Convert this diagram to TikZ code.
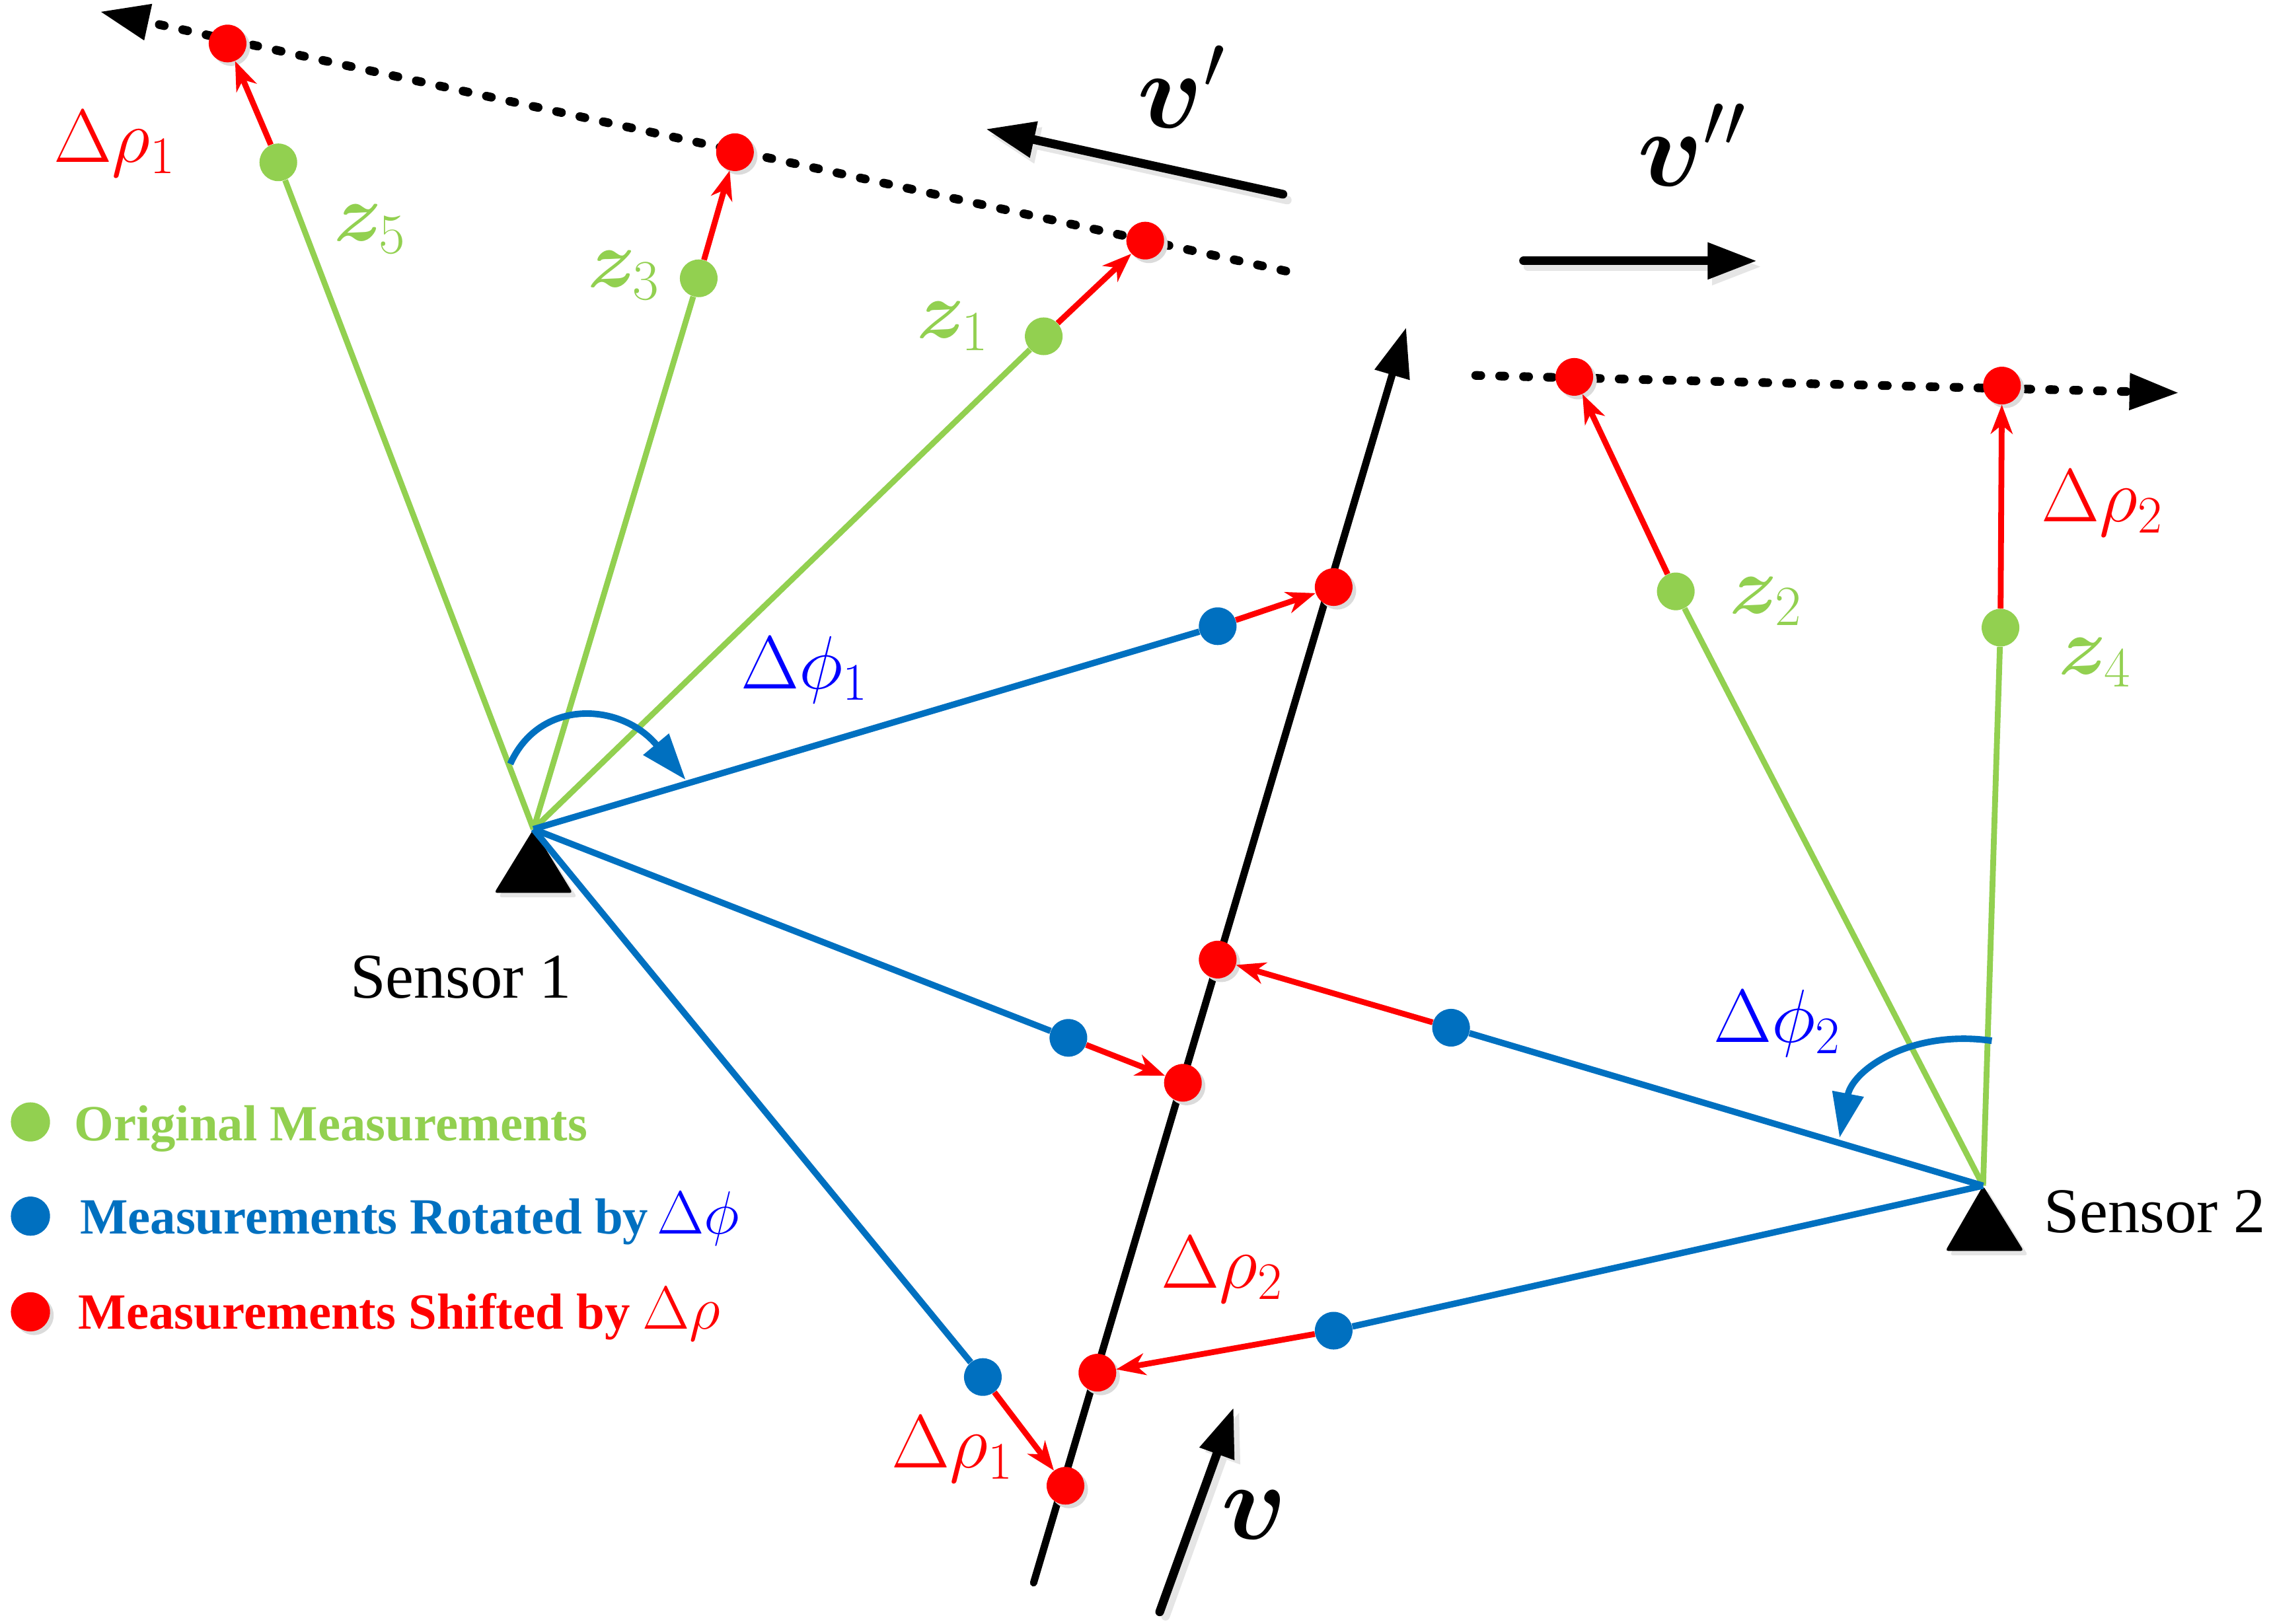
\RequirePackage{fix-cm}
\documentclass[tikz,border=0pt]{standalone}
\usepackage{amsmath}
\usepackage{bm}
\usepackage{fontspec}
\newfontfamily\timesf{Liberation Serif}
\usetikzlibrary{arrows.meta,shadows}
\definecolor{mgreen}{RGB}{146,208,80}
\definecolor{mblue}{RGB}{0,112,192}
\definecolor{mred}{RGB}{255,0,0}
\definecolor{pblue}{RGB}{0,0,255}
\pgfdeclarelayer{bg}
\pgfsetlayers{bg,main}
\begin{document}
\begin{tikzpicture}[x=1pt,y=-1pt,
  dot/.style={circle,minimum size=26pt,inner sep=0pt,draw=none},
  gdot/.style={dot,fill=mgreen},
  bdot/.style={dot,fill=mblue},
  rdot/.style={dot,fill=mred,drop shadow={shadow xshift=2.5pt,shadow yshift=-2.5pt,fill=black!14,opacity=1}},
  gline/.style={mgreen,line width=4pt},
  bline/.style={mblue,line width=4.4pt},
  rarrow/.style={mred,line width=4pt,-{Stealth[length=20pt,width=15pt,inset=6pt]}},
  bigtip/.style={-{Triangle[length=34pt,width=24pt]}},
  dotline/.style={line width=6pt,line cap=round,dash pattern=on 3.5pt off 13pt},
  vline/.style={line width=6pt,line cap=round,bigtip},
  mlab/.style={inner sep=0pt,font=\fontsize{52}{52}\selectfont},
  zlab/.style={inner sep=0pt,text=mgreen,font=\fontsize{56}{56}\selectfont},
  vlab/.style={inner sep=0pt,font=\fontsize{75}{75}\selectfont},
  slab/.style={inner sep=0pt,font=\timesf\fontsize{44}{44}\selectfont},
  leg/.style={inner sep=0pt,anchor=base west,font=\timesf\bfseries\fontsize{35}{35}\selectfont}
]
\useasboundingbox (0,0) rectangle (1568,1120);

% sensors
\coordinate (S1) at (368,572);
\coordinate (S2) at (1368,818);
\fill[black!10,rounded corners=2pt] ([shift={(3,3)}]S1) -- ++(-27,44) -- ++(54,0) -- cycle;
\fill[black,rounded corners=2pt] (S1) -- ++(-27,44) -- ++(54,0) -- cycle;
\fill[black!10,rounded corners=2pt] ([shift={(3,3)}]S2) -- ++(-26,45) -- ++(54,0) -- cycle;
\fill[black,rounded corners=2pt] (S2) -- ++(-26,45) -- ++(54,0) -- cycle;

% original measurements
\node[gdot] (z5) at (192,112) {};
\node[gdot] (z3) at (482,192) {};
\node[gdot] (z1) at (720,232) {};
\node[gdot] (z2) at (1156,408) {};
\node[gdot] (z4) at (1380,433) {};
% rotated
\node[bdot] (b1) at (840,432) {};
\node[bdot] (b2) at (737,716) {};
\node[bdot] (b3) at (678,950) {};
\node[bdot] (b4) at (1001,709) {};
\node[bdot] (b5) at (920,918) {};
% shifted
\node[rdot] (r5) at (157,30) {};
\node[rdot] (r3) at (507,105) {};
\node[rdot] (r1) at (790,166) {};
\node[rdot] (r2) at (1086,260) {};
\node[rdot] (r4) at (1381,266) {};
\node[rdot] (r6) at (920,405) {};
\node[rdot] (r9) at (840,662) {};
\node[rdot] (r7) at (816,747) {};
\node[rdot] (r10) at (757,947) {};
\node[rdot] (r8) at (735,1025) {};

% background lines
\coordinate (d1s) at (887,187);
\coordinate (d1e) at (69,8);
\coordinate (d2s) at (1018,259);
\coordinate (d2e) at (1503,271);
\coordinate (t1) at (713,1092);
\coordinate (t2) at (970,226);
\begin{pgfonlayer}{bg}
\draw[dotline,bigtip] (d1s) -- (d1e);
\draw[dotline,bigtip] (d2s) -- (d2e);
\draw[line width=5pt,line cap=round,bigtip] (t1) -- (t2);
\end{pgfonlayer}

% rays
\draw[gline] (S1) -- (z5);
\draw[gline] (S1) -- (z3);
\draw[gline] (S1) -- (z1);
\draw[gline] (S2) -- (z2);
\draw[gline] (S2) -- (z4);
\draw[bline] (S1) -- (b1);
\draw[bline] (S1) -- (b2);
\draw[bline] (S1) -- (b3);
\draw[bline] (S2) -- (b4);
\draw[bline] (S2) -- (b5);

% shift arrows
\draw[rarrow] (z5) -- (r5);
\draw[rarrow] (z3) -- (r3);
\draw[rarrow] (z1) -- (r1);
\draw[rarrow] (z2) -- (r2);
\draw[rarrow] (z4) -- (r4);
\draw[rarrow] (b1) -- (r6);
\draw[rarrow] (b2) -- (r7);
\draw[rarrow] (b3) -- (r8);
\draw[rarrow] (b4) -- (r9);
\draw[rarrow] (b5) -- (r10);

% rotation arcs
\coordinate (a1s) at (352,527);
\coordinate (a1e) at (473,538);
\draw[mblue,line width=4.5pt,-{Triangle[length=32pt,width=22pt]}] (a1s) .. controls (372,482) and (428,484) .. (a1e);
\coordinate (a2s) at (1374,718);
\coordinate (a2e) at (1269,785);
\draw[mblue,line width=4.5pt,-{Triangle[length=31pt,width=21pt]}] (a2s) .. controls (1318,710) and (1278,738) .. (a2e);

% velocity arrows
\coordinate (vp1) at (885,134);
\coordinate (vp2) at (680,89);
\coordinate (vq1) at (1051,180);
\coordinate (vq2) at (1212,180);
\coordinate (vr1) at (800,1112);
\coordinate (vr2) at (851,971);
\draw[vline,black!10] ([shift={(3,4)}]vp1) -- ([shift={(3,4)}]vp2);
\draw[vline,black!10] ([shift={(3,4)}]vq1) -- ([shift={(3,4)}]vq2);
\draw[vline,black!10] ([shift={(4,3)}]vr1) -- ([shift={(4,3)}]vr2);
\draw[vline] (vp1) -- (vp2);
\draw[vline] (vq1) -- (vq2);
\draw[vline] (vr1) -- (vr2);

% labels
\node[vlab] (lvp) at (815,60) {$\bm{v}'$};
\node[vlab] (lvq) at (1167,100) {$\bm{v}''$};
\node[vlab] (lv) at (865,1045) {$\bm{v}$};
\node[mlab,text=mred] (lra) at (79,99) {$\Delta\rho_1$};
\node[mlab,text=mred] (lrb) at (1450,347) {$\Delta\rho_2$};
\node[mlab,text=mred] (lrc) at (843,876) {$\Delta\rho_2$};
\node[mlab,text=mred] (lrd) at (657,1000) {$\Delta\rho_1$};
\node[mlab,text=pblue] (lpa) at (555,462) {$\Delta\phi_1$};
\node[mlab,text=pblue] (lpb) at (1226,706) {$\Delta\phi_2$};
\node[zlab] (lz5) at (255,158) {$\bm{z}_5$};
\node[zlab] (lz3) at (430,190) {$\bm{z}_3$};
\node[zlab] (lz1) at (657,225) {$\bm{z}_1$};
\node[zlab] (lz2) at (1218,415) {$\bm{z}_2$};
\node[zlab] (lz4) at (1445,457) {$\bm{z}_4$};
\node[slab] (ls1) at (318,674) {Sensor 1};
\node[slab,anchor=west] (ls2) at (1410,836) {Sensor 2};

% legend
\node[gdot,minimum size=27pt] (lg) at (21,774) {};
\node[bdot,minimum size=27pt] (lb) at (21,839) {};
\node[rdot,minimum size=27pt] (lr) at (21,905) {};
\node[leg,text=mgreen] (lgt) at (51,787) {Original Measurements};
\node[leg,text=mblue] (lbt) at (55,851) {Measurements Rotated by\,{\fontsize{42}{42}\selectfont\textcolor{pblue}{$\Delta\phi$}}};
\node[leg,text=mred] (lrt) at (54,917) {Measurements Shifted by {\fontsize{42}{42}\selectfont$\Delta\rho$}};
\end{tikzpicture}
\end{document}
